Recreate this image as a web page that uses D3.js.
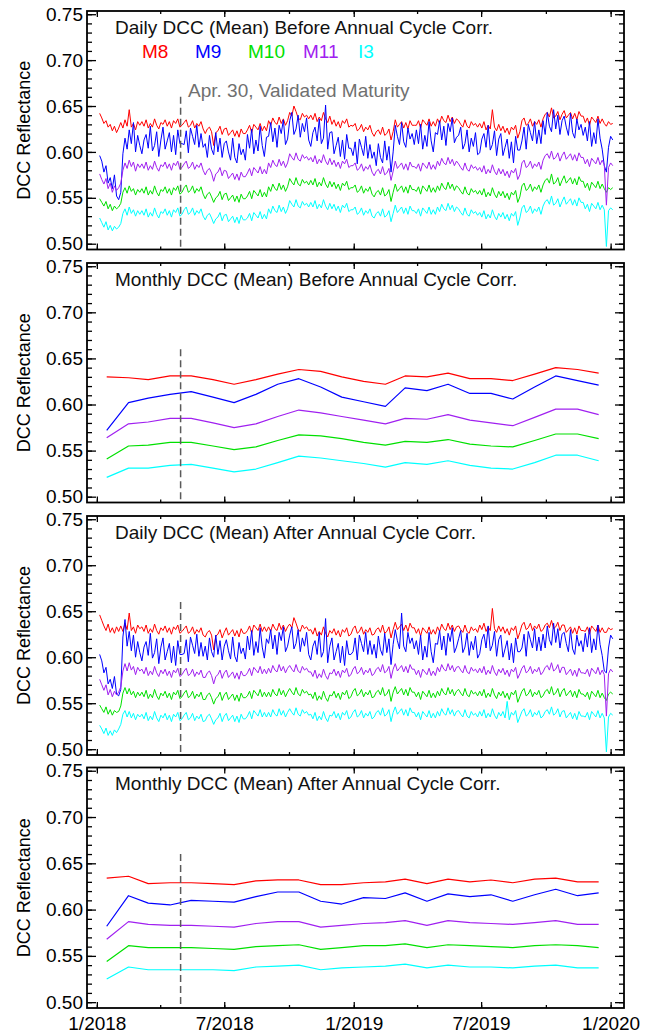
<!DOCTYPE html>
<html>
<head>
<meta charset="utf-8">
<script src="https://cdn.jsdelivr.net/npm/d3@7"></script>
<style>
body { margin: 0; background: #fff; }
text { font-family: "Liberation Sans", Arial, Helvetica, sans-serif; }
</style>
</head>
<body>
<svg id="chart" width="652" height="1034"></svg>
<script>
// bands, in drawing order
var bands = ["M8", "M9", "M10", "M11", "I3"];
var bandColors = ["#ff0000", "#0000ff", "#00e000", "#a020f0", "#00ffff"];

var panelTitles = [
  "Daily DCC (Mean) Before Annual Cycle Corr.",
  "Monthly DCC (Mean) Before Annual Cycle Corr.",
  "Daily DCC (Mean) After Annual Cycle Corr.",
  "Monthly DCC (Mean) After Annual Cycle Corr."
];
var yLabel = "DCC Reflectance";
var yTicks = [0.50, 0.55, 0.60, 0.65, 0.70, 0.75];
var xTickLabels = ["1/2018", "7/2018", "1/2019", "7/2019", "1/2020"];
var maturityDate = "2018-04-30";
var maturityText = "Apr. 30, Validated Maturity";

// daily series: one value every 3 days from Jan 5 2018 (one row ~ one month)
var dailyStart = "2018-01-05";
var dailyStep = 3;

var dailyBeforeM8 = [
  0.642, 0.637, 0.631, 0.634, 0.627, 0.630, 0.623, 0.628, 0.621, 0.626,
  0.632, 0.626, 0.635, 0.628, 0.646, 0.627, 0.631, 0.624, 0.633, 0.629,
  0.633, 0.628, 0.635, 0.626, 0.631, 0.627, 0.636, 0.629, 0.625, 0.632,
  0.630, 0.635, 0.628, 0.633, 0.626, 0.634, 0.631, 0.636, 0.627, 0.629,
  0.632, 0.635, 0.627, 0.629, 0.634, 0.626, 0.631, 0.628, 0.633, 0.625,
  0.620, 0.625, 0.627, 0.622, 0.607, 0.621, 0.623, 0.628, 0.619, 0.625,
  0.626, 0.618, 0.621, 0.624, 0.617, 0.623, 0.616, 0.625, 0.620, 0.620,
  0.624, 0.629, 0.621, 0.630, 0.627, 0.624, 0.631, 0.623, 0.628, 0.623,
  0.634, 0.629, 0.637, 0.632, 0.630, 0.638, 0.631, 0.636, 0.629, 0.634,
  0.643, 0.639, 0.650, 0.644, 0.637, 0.635, 0.642, 0.638, 0.640, 0.636,
  0.640, 0.635, 0.642, 0.633, 0.638, 0.634, 0.643, 0.636, 0.632, 0.639,
  0.630, 0.635, 0.628, 0.633, 0.626, 0.634, 0.631, 0.636, 0.627, 0.629,
  0.628, 0.631, 0.623, 0.625, 0.630, 0.622, 0.627, 0.624, 0.629, 0.621,
  0.617, 0.622, 0.624, 0.619, 0.627, 0.618, 0.620, 0.625, 0.613, 0.622,
  0.635, 0.627, 0.630, 0.633, 0.626, 0.632, 0.625, 0.634, 0.629, 0.629,
  0.629, 0.634, 0.626, 0.635, 0.632, 0.629, 0.636, 0.628, 0.633, 0.628,
  0.636, 0.631, 0.639, 0.634, 0.632, 0.640, 0.633, 0.638, 0.631, 0.636,
  0.634, 0.630, 0.627, 0.635, 0.628, 0.626, 0.633, 0.629, 0.631, 0.627,
  0.631, 0.626, 0.633, 0.624, 0.629, 0.625, 0.646, 0.627, 0.623, 0.630,
  0.623, 0.628, 0.621, 0.626, 0.619, 0.627, 0.624, 0.629, 0.615, 0.622,
  0.634, 0.637, 0.629, 0.631, 0.636, 0.628, 0.633, 0.630, 0.635, 0.627,
  0.636, 0.641, 0.643, 0.638, 0.648, 0.637, 0.639, 0.644, 0.635, 0.641,
  0.645, 0.637, 0.640, 0.643, 0.636, 0.642, 0.635, 0.644, 0.639, 0.639,
  0.632, 0.637, 0.629, 0.638, 0.635, 0.632, 0.639, 0.631, 0.636, 0.631,
  0.628, 0.633, 0.630, 0.631
];
var dailyBeforeM9 = [
  0.596, 0.590, 0.578, 0.585, 0.566, 0.572, 0.560, 0.575, 0.552, 0.548,
  0.556, 0.598, 0.615, 0.603, 0.624, 0.609, 0.632, 0.600, 0.618, 0.607,
  0.598, 0.613, 0.619, 0.604, 0.628, 0.601, 0.607, 0.622, 0.595, 0.613,
  0.627, 0.603, 0.612, 0.621, 0.600, 0.618, 0.597, 0.624, 0.609, 0.609,
  0.608, 0.623, 0.599, 0.626, 0.617, 0.608, 0.629, 0.605, 0.620, 0.605,
  0.609, 0.594, 0.618, 0.603, 0.597, 0.621, 0.600, 0.615, 0.594, 0.609,
  0.612, 0.600, 0.591, 0.615, 0.594, 0.588, 0.609, 0.597, 0.603, 0.591,
  0.619, 0.604, 0.625, 0.598, 0.613, 0.601, 0.628, 0.607, 0.595, 0.616,
  0.617, 0.632, 0.611, 0.626, 0.605, 0.629, 0.620, 0.635, 0.608, 0.614,
  0.634, 0.643, 0.619, 0.625, 0.640, 0.616, 0.631, 0.622, 0.637, 0.613,
  0.606, 0.621, 0.627, 0.612, 0.636, 0.609, 0.615, 0.651, 0.603, 0.621,
  0.622, 0.598, 0.607, 0.616, 0.595, 0.613, 0.592, 0.619, 0.604, 0.604,
  0.596, 0.611, 0.587, 0.614, 0.605, 0.596, 0.617, 0.593, 0.608, 0.593,
  0.600, 0.585, 0.609, 0.594, 0.588, 0.612, 0.591, 0.606, 0.578, 0.600,
  0.629, 0.617, 0.608, 0.632, 0.611, 0.605, 0.626, 0.614, 0.620, 0.608,
  0.624, 0.609, 0.630, 0.603, 0.618, 0.606, 0.633, 0.612, 0.600, 0.621,
  0.619, 0.634, 0.613, 0.628, 0.607, 0.631, 0.622, 0.637, 0.610, 0.616,
  0.618, 0.627, 0.603, 0.609, 0.624, 0.600, 0.615, 0.606, 0.621, 0.597,
  0.599, 0.614, 0.620, 0.605, 0.629, 0.602, 0.608, 0.623, 0.596, 0.614,
  0.620, 0.596, 0.605, 0.614, 0.593, 0.611, 0.588, 0.617, 0.602, 0.602,
  0.612, 0.627, 0.603, 0.630, 0.621, 0.612, 0.633, 0.609, 0.624, 0.609,
  0.634, 0.619, 0.643, 0.628, 0.622, 0.646, 0.625, 0.640, 0.619, 0.634,
  0.639, 0.627, 0.618, 0.642, 0.621, 0.615, 0.636, 0.624, 0.630, 0.618,
  0.627, 0.612, 0.633, 0.606, 0.621, 0.609, 0.636, 0.615, 0.603, 0.585,
  0.578, 0.605, 0.617, 0.613
];
var dailyBeforeM10 = [
  0.549, 0.545, 0.541, 0.546, 0.538, 0.543, 0.536, 0.541, 0.538, 0.540,
  0.544, 0.556, 0.561, 0.555, 0.563, 0.557, 0.560, 0.553, 0.559, 0.556,
  0.560, 0.555, 0.562, 0.553, 0.558, 0.554, 0.563, 0.556, 0.552, 0.559,
  0.557, 0.562, 0.555, 0.560, 0.553, 0.561, 0.558, 0.563, 0.554, 0.556,
  0.561, 0.564, 0.556, 0.558, 0.563, 0.555, 0.560, 0.557, 0.562, 0.554,
  0.549, 0.554, 0.556, 0.551, 0.545, 0.550, 0.552, 0.557, 0.548, 0.554,
  0.555, 0.547, 0.550, 0.553, 0.546, 0.552, 0.545, 0.554, 0.549, 0.549,
  0.552, 0.557, 0.549, 0.558, 0.555, 0.552, 0.559, 0.551, 0.556, 0.551,
  0.562, 0.557, 0.565, 0.560, 0.558, 0.566, 0.559, 0.564, 0.557, 0.562,
  0.571, 0.567, 0.564, 0.572, 0.565, 0.563, 0.570, 0.566, 0.568, 0.564,
  0.569, 0.564, 0.571, 0.562, 0.567, 0.563, 0.572, 0.565, 0.561, 0.568,
  0.562, 0.567, 0.560, 0.565, 0.558, 0.566, 0.563, 0.568, 0.559, 0.561,
  0.561, 0.564, 0.556, 0.558, 0.563, 0.555, 0.560, 0.557, 0.562, 0.554,
  0.551, 0.556, 0.558, 0.553, 0.561, 0.552, 0.554, 0.559, 0.546, 0.556,
  0.565, 0.557, 0.560, 0.563, 0.556, 0.562, 0.555, 0.564, 0.559, 0.559,
  0.557, 0.562, 0.554, 0.563, 0.560, 0.557, 0.564, 0.556, 0.561, 0.556,
  0.563, 0.558, 0.566, 0.561, 0.559, 0.567, 0.560, 0.565, 0.558, 0.563,
  0.561, 0.557, 0.554, 0.562, 0.555, 0.553, 0.560, 0.556, 0.558, 0.554,
  0.558, 0.553, 0.560, 0.551, 0.556, 0.552, 0.561, 0.554, 0.550, 0.557,
  0.552, 0.557, 0.550, 0.555, 0.548, 0.556, 0.553, 0.558, 0.545, 0.551,
  0.563, 0.566, 0.558, 0.560, 0.565, 0.557, 0.562, 0.559, 0.564, 0.556,
  0.564, 0.569, 0.571, 0.566, 0.576, 0.565, 0.567, 0.572, 0.563, 0.569,
  0.574, 0.566, 0.569, 0.572, 0.565, 0.571, 0.564, 0.573, 0.568, 0.568,
  0.561, 0.566, 0.558, 0.567, 0.564, 0.561, 0.568, 0.560, 0.565, 0.560,
  0.556, 0.561, 0.559, 0.561
];
var dailyBeforeM11 = [
  0.576, 0.570, 0.565, 0.571, 0.560, 0.566, 0.556, 0.563, 0.558, 0.561,
  0.566, 0.580, 0.588, 0.582, 0.591, 0.584, 0.589, 0.579, 0.587, 0.583,
  0.587, 0.582, 0.589, 0.580, 0.585, 0.581, 0.590, 0.583, 0.579, 0.586,
  0.584, 0.589, 0.582, 0.587, 0.580, 0.588, 0.585, 0.590, 0.581, 0.583,
  0.587, 0.590, 0.582, 0.584, 0.589, 0.581, 0.586, 0.583, 0.588, 0.580,
  0.575, 0.580, 0.582, 0.577, 0.568, 0.576, 0.578, 0.583, 0.574, 0.580,
  0.579, 0.571, 0.574, 0.577, 0.570, 0.576, 0.569, 0.578, 0.573, 0.573,
  0.577, 0.582, 0.574, 0.583, 0.580, 0.577, 0.584, 0.576, 0.581, 0.576,
  0.588, 0.583, 0.591, 0.586, 0.584, 0.592, 0.585, 0.590, 0.583, 0.588,
  0.598, 0.594, 0.591, 0.599, 0.592, 0.590, 0.597, 0.593, 0.595, 0.591,
  0.594, 0.589, 0.596, 0.587, 0.592, 0.588, 0.597, 0.590, 0.586, 0.593,
  0.586, 0.591, 0.584, 0.589, 0.582, 0.590, 0.587, 0.592, 0.583, 0.585,
  0.585, 0.588, 0.580, 0.582, 0.587, 0.579, 0.584, 0.581, 0.586, 0.578,
  0.574, 0.579, 0.581, 0.576, 0.584, 0.575, 0.577, 0.582, 0.569, 0.579,
  0.590, 0.582, 0.585, 0.588, 0.581, 0.587, 0.580, 0.589, 0.584, 0.584,
  0.582, 0.587, 0.579, 0.588, 0.585, 0.582, 0.589, 0.581, 0.586, 0.581,
  0.590, 0.585, 0.593, 0.588, 0.586, 0.594, 0.587, 0.592, 0.585, 0.590,
  0.587, 0.583, 0.580, 0.588, 0.581, 0.579, 0.586, 0.582, 0.584, 0.580,
  0.583, 0.578, 0.585, 0.576, 0.581, 0.577, 0.586, 0.579, 0.575, 0.582,
  0.576, 0.581, 0.574, 0.579, 0.572, 0.580, 0.577, 0.582, 0.570, 0.575,
  0.588, 0.591, 0.583, 0.585, 0.590, 0.582, 0.587, 0.584, 0.589, 0.581,
  0.591, 0.596, 0.598, 0.593, 0.601, 0.592, 0.594, 0.599, 0.590, 0.596,
  0.600, 0.592, 0.595, 0.598, 0.591, 0.597, 0.590, 0.599, 0.594, 0.594,
  0.587, 0.592, 0.584, 0.593, 0.590, 0.587, 0.594, 0.586, 0.591, 0.586,
  0.542, 0.583, 0.588, 0.585
];
var dailyBeforeI3 = [
  0.528, 0.523, 0.518, 0.524, 0.515, 0.520, 0.514, 0.519, 0.516, 0.518,
  0.522, 0.533, 0.538, 0.531, 0.540, 0.533, 0.537, 0.530, 0.536, 0.532,
  0.536, 0.531, 0.538, 0.529, 0.534, 0.530, 0.539, 0.532, 0.528, 0.535,
  0.533, 0.538, 0.531, 0.536, 0.529, 0.537, 0.534, 0.539, 0.530, 0.532,
  0.537, 0.540, 0.532, 0.534, 0.539, 0.531, 0.536, 0.533, 0.538, 0.530,
  0.526, 0.531, 0.533, 0.528, 0.522, 0.527, 0.529, 0.534, 0.525, 0.531,
  0.532, 0.524, 0.527, 0.530, 0.523, 0.529, 0.522, 0.531, 0.526, 0.526,
  0.528, 0.533, 0.525, 0.534, 0.531, 0.528, 0.535, 0.527, 0.532, 0.527,
  0.538, 0.533, 0.541, 0.536, 0.534, 0.542, 0.535, 0.540, 0.533, 0.538,
  0.547, 0.543, 0.540, 0.548, 0.541, 0.539, 0.546, 0.542, 0.544, 0.540,
  0.545, 0.540, 0.547, 0.538, 0.543, 0.539, 0.548, 0.541, 0.537, 0.544,
  0.538, 0.543, 0.536, 0.541, 0.534, 0.542, 0.539, 0.544, 0.535, 0.537,
  0.537, 0.540, 0.532, 0.534, 0.539, 0.531, 0.536, 0.533, 0.538, 0.530,
  0.528, 0.533, 0.535, 0.530, 0.538, 0.529, 0.531, 0.536, 0.524, 0.533,
  0.542, 0.534, 0.537, 0.540, 0.533, 0.539, 0.532, 0.541, 0.536, 0.536,
  0.533, 0.538, 0.530, 0.539, 0.536, 0.533, 0.540, 0.532, 0.537, 0.532,
  0.540, 0.535, 0.543, 0.538, 0.536, 0.544, 0.537, 0.542, 0.535, 0.540,
  0.538, 0.534, 0.531, 0.539, 0.532, 0.530, 0.537, 0.533, 0.535, 0.531,
  0.534, 0.529, 0.536, 0.527, 0.532, 0.528, 0.537, 0.530, 0.526, 0.533,
  0.529, 0.534, 0.527, 0.532, 0.525, 0.533, 0.530, 0.535, 0.520, 0.528,
  0.539, 0.542, 0.534, 0.536, 0.541, 0.533, 0.538, 0.535, 0.540, 0.532,
  0.541, 0.546, 0.548, 0.543, 0.552, 0.542, 0.544, 0.549, 0.540, 0.546,
  0.551, 0.543, 0.546, 0.549, 0.542, 0.548, 0.541, 0.550, 0.545, 0.545,
  0.538, 0.543, 0.535, 0.544, 0.541, 0.538, 0.545, 0.537, 0.542, 0.537,
  0.497, 0.536, 0.539, 0.537
];

var dailyAfterM8 = [
  0.646, 0.640, 0.634, 0.629, 0.636, 0.627, 0.632, 0.626, 0.633, 0.628,
  0.634, 0.628, 0.637, 0.630, 0.648, 0.629, 0.633, 0.626, 0.635, 0.631,
  0.633, 0.628, 0.635, 0.626, 0.631, 0.627, 0.636, 0.629, 0.625, 0.632,
  0.629, 0.634, 0.627, 0.632, 0.625, 0.633, 0.630, 0.635, 0.626, 0.628,
  0.631, 0.634, 0.626, 0.628, 0.633, 0.625, 0.630, 0.627, 0.632, 0.624,
  0.622, 0.627, 0.629, 0.624, 0.608, 0.623, 0.625, 0.630, 0.621, 0.627,
  0.632, 0.624, 0.627, 0.630, 0.623, 0.629, 0.622, 0.631, 0.626, 0.626,
  0.629, 0.634, 0.626, 0.635, 0.632, 0.629, 0.636, 0.628, 0.633, 0.628,
  0.633, 0.628, 0.636, 0.631, 0.629, 0.637, 0.630, 0.635, 0.628, 0.633,
  0.636, 0.632, 0.643, 0.637, 0.630, 0.628, 0.635, 0.631, 0.633, 0.629,
  0.630, 0.625, 0.632, 0.623, 0.628, 0.624, 0.633, 0.626, 0.622, 0.629,
  0.626, 0.631, 0.624, 0.629, 0.622, 0.630, 0.627, 0.632, 0.623, 0.625,
  0.631, 0.634, 0.626, 0.628, 0.633, 0.625, 0.630, 0.627, 0.632, 0.624,
  0.625, 0.630, 0.632, 0.627, 0.635, 0.626, 0.628, 0.633, 0.621, 0.630,
  0.638, 0.630, 0.633, 0.636, 0.629, 0.635, 0.628, 0.637, 0.632, 0.632,
  0.626, 0.631, 0.623, 0.632, 0.629, 0.626, 0.633, 0.625, 0.630, 0.625,
  0.633, 0.628, 0.636, 0.631, 0.629, 0.637, 0.630, 0.635, 0.628, 0.633,
  0.634, 0.630, 0.627, 0.635, 0.628, 0.626, 0.633, 0.629, 0.631, 0.627,
  0.635, 0.630, 0.637, 0.628, 0.633, 0.629, 0.653, 0.631, 0.627, 0.634,
  0.628, 0.633, 0.626, 0.631, 0.624, 0.632, 0.629, 0.634, 0.620, 0.627,
  0.635, 0.638, 0.630, 0.632, 0.637, 0.629, 0.634, 0.631, 0.636, 0.628,
  0.630, 0.635, 0.637, 0.632, 0.640, 0.631, 0.633, 0.638, 0.629, 0.635,
  0.635, 0.627, 0.630, 0.633, 0.626, 0.632, 0.625, 0.634, 0.629, 0.629,
  0.628, 0.633, 0.625, 0.634, 0.631, 0.628, 0.635, 0.627, 0.632, 0.627,
  0.627, 0.632, 0.630, 0.631
];
var dailyAfterM9 = [
  0.603, 0.596, 0.583, 0.589, 0.571, 0.576, 0.566, 0.579, 0.560, 0.558,
  0.565, 0.622, 0.641, 0.612, 0.628, 0.607, 0.624, 0.600, 0.617, 0.605,
  0.596, 0.611, 0.617, 0.602, 0.626, 0.599, 0.605, 0.620, 0.593, 0.611,
  0.621, 0.597, 0.606, 0.615, 0.594, 0.612, 0.591, 0.618, 0.603, 0.603,
  0.604, 0.619, 0.595, 0.622, 0.613, 0.604, 0.625, 0.601, 0.616, 0.601,
  0.612, 0.597, 0.621, 0.606, 0.600, 0.624, 0.603, 0.618, 0.597, 0.612,
  0.619, 0.607, 0.598, 0.622, 0.601, 0.595, 0.616, 0.604, 0.610, 0.598,
  0.623, 0.608, 0.629, 0.602, 0.617, 0.605, 0.632, 0.611, 0.599, 0.620,
  0.615, 0.630, 0.609, 0.624, 0.603, 0.627, 0.618, 0.633, 0.606, 0.612,
  0.624, 0.633, 0.609, 0.615, 0.630, 0.606, 0.621, 0.612, 0.627, 0.603,
  0.597, 0.612, 0.618, 0.603, 0.627, 0.600, 0.606, 0.642, 0.594, 0.612,
  0.621, 0.597, 0.606, 0.615, 0.594, 0.612, 0.591, 0.618, 0.603, 0.603,
  0.606, 0.621, 0.597, 0.624, 0.615, 0.606, 0.627, 0.603, 0.618, 0.603,
  0.614, 0.599, 0.623, 0.608, 0.602, 0.626, 0.605, 0.620, 0.592, 0.614,
  0.630, 0.618, 0.609, 0.648, 0.612, 0.606, 0.627, 0.615, 0.621, 0.609,
  0.618, 0.603, 0.624, 0.597, 0.612, 0.600, 0.627, 0.606, 0.594, 0.615,
  0.614, 0.629, 0.608, 0.623, 0.602, 0.626, 0.617, 0.632, 0.605, 0.611,
  0.620, 0.629, 0.605, 0.611, 0.626, 0.602, 0.617, 0.608, 0.623, 0.599,
  0.604, 0.619, 0.625, 0.610, 0.634, 0.607, 0.613, 0.628, 0.601, 0.619,
  0.624, 0.600, 0.609, 0.618, 0.597, 0.615, 0.594, 0.621, 0.606, 0.606,
  0.610, 0.625, 0.601, 0.628, 0.619, 0.610, 0.631, 0.607, 0.622, 0.607,
  0.625, 0.610, 0.634, 0.619, 0.613, 0.637, 0.616, 0.631, 0.610, 0.625,
  0.627, 0.615, 0.606, 0.630, 0.609, 0.603, 0.624, 0.612, 0.618, 0.606,
  0.626, 0.611, 0.632, 0.605, 0.620, 0.608, 0.635, 0.614, 0.602, 0.585,
  0.583, 0.610, 0.624, 0.620
];
var dailyAfterM10 = [
  0.548, 0.544, 0.540, 0.546, 0.538, 0.543, 0.537, 0.542, 0.540, 0.541,
  0.547, 0.561, 0.567, 0.560, 0.566, 0.559, 0.563, 0.556, 0.562, 0.558,
  0.562, 0.557, 0.564, 0.555, 0.560, 0.556, 0.565, 0.558, 0.554, 0.561,
  0.558, 0.563, 0.556, 0.561, 0.554, 0.562, 0.559, 0.564, 0.555, 0.557,
  0.561, 0.564, 0.556, 0.558, 0.563, 0.555, 0.560, 0.557, 0.562, 0.554,
  0.554, 0.559, 0.561, 0.556, 0.549, 0.555, 0.557, 0.562, 0.553, 0.559,
  0.562, 0.554, 0.557, 0.560, 0.553, 0.559, 0.552, 0.561, 0.556, 0.556,
  0.558, 0.563, 0.555, 0.564, 0.561, 0.558, 0.565, 0.557, 0.562, 0.557,
  0.562, 0.557, 0.565, 0.560, 0.558, 0.566, 0.559, 0.564, 0.557, 0.562,
  0.566, 0.562, 0.559, 0.567, 0.560, 0.558, 0.565, 0.561, 0.563, 0.559,
  0.560, 0.555, 0.562, 0.553, 0.558, 0.554, 0.563, 0.556, 0.552, 0.559,
  0.558, 0.563, 0.556, 0.561, 0.554, 0.562, 0.559, 0.564, 0.555, 0.557,
  0.563, 0.566, 0.558, 0.560, 0.565, 0.557, 0.562, 0.559, 0.564, 0.556,
  0.557, 0.562, 0.564, 0.559, 0.567, 0.558, 0.560, 0.565, 0.552, 0.562,
  0.568, 0.560, 0.563, 0.566, 0.559, 0.565, 0.558, 0.567, 0.562, 0.562,
  0.557, 0.562, 0.554, 0.563, 0.560, 0.557, 0.564, 0.556, 0.561, 0.556,
  0.563, 0.558, 0.566, 0.561, 0.559, 0.567, 0.560, 0.565, 0.558, 0.563,
  0.565, 0.561, 0.558, 0.566, 0.559, 0.557, 0.564, 0.560, 0.562, 0.558,
  0.563, 0.558, 0.565, 0.556, 0.561, 0.557, 0.566, 0.559, 0.555, 0.562,
  0.558, 0.563, 0.556, 0.561, 0.554, 0.562, 0.559, 0.564, 0.551, 0.557,
  0.563, 0.566, 0.558, 0.560, 0.565, 0.557, 0.562, 0.559, 0.564, 0.556,
  0.558, 0.563, 0.565, 0.560, 0.568, 0.559, 0.561, 0.566, 0.557, 0.563,
  0.566, 0.558, 0.561, 0.564, 0.557, 0.563, 0.556, 0.565, 0.560, 0.560,
  0.557, 0.562, 0.554, 0.563, 0.560, 0.557, 0.564, 0.556, 0.561, 0.556,
  0.553, 0.560, 0.562, 0.560
];
var dailyAfterM11 = [
  0.576, 0.570, 0.564, 0.570, 0.559, 0.565, 0.557, 0.563, 0.559, 0.562,
  0.568, 0.585, 0.593, 0.585, 0.594, 0.586, 0.590, 0.581, 0.589, 0.585,
  0.587, 0.582, 0.589, 0.580, 0.585, 0.581, 0.590, 0.583, 0.579, 0.586,
  0.582, 0.587, 0.580, 0.585, 0.578, 0.586, 0.583, 0.588, 0.579, 0.581,
  0.585, 0.588, 0.580, 0.582, 0.587, 0.579, 0.584, 0.581, 0.586, 0.578,
  0.578, 0.583, 0.585, 0.580, 0.571, 0.579, 0.581, 0.586, 0.577, 0.583,
  0.586, 0.578, 0.581, 0.584, 0.577, 0.583, 0.576, 0.585, 0.580, 0.580,
  0.583, 0.588, 0.580, 0.589, 0.586, 0.583, 0.590, 0.582, 0.587, 0.582,
  0.588, 0.583, 0.591, 0.586, 0.584, 0.592, 0.585, 0.590, 0.583, 0.588,
  0.591, 0.587, 0.584, 0.592, 0.585, 0.583, 0.590, 0.586, 0.588, 0.584,
  0.584, 0.579, 0.586, 0.577, 0.582, 0.578, 0.587, 0.580, 0.576, 0.583,
  0.582, 0.587, 0.580, 0.585, 0.578, 0.586, 0.583, 0.588, 0.579, 0.581,
  0.587, 0.590, 0.582, 0.584, 0.589, 0.581, 0.586, 0.583, 0.588, 0.580,
  0.582, 0.587, 0.589, 0.584, 0.592, 0.583, 0.585, 0.590, 0.577, 0.587,
  0.593, 0.585, 0.588, 0.591, 0.584, 0.590, 0.583, 0.592, 0.587, 0.587,
  0.581, 0.586, 0.578, 0.587, 0.584, 0.581, 0.588, 0.580, 0.585, 0.580,
  0.589, 0.584, 0.592, 0.587, 0.585, 0.593, 0.586, 0.591, 0.584, 0.589,
  0.590, 0.586, 0.583, 0.591, 0.584, 0.582, 0.589, 0.585, 0.587, 0.583,
  0.588, 0.583, 0.590, 0.581, 0.586, 0.582, 0.591, 0.584, 0.580, 0.587,
  0.583, 0.588, 0.581, 0.586, 0.579, 0.587, 0.584, 0.589, 0.577, 0.582,
  0.588, 0.591, 0.583, 0.585, 0.590, 0.582, 0.587, 0.584, 0.589, 0.581,
  0.584, 0.589, 0.591, 0.586, 0.594, 0.585, 0.587, 0.592, 0.583, 0.589,
  0.589, 0.581, 0.584, 0.587, 0.580, 0.586, 0.579, 0.588, 0.583, 0.583,
  0.582, 0.587, 0.579, 0.588, 0.585, 0.582, 0.589, 0.581, 0.586, 0.581,
  0.536, 0.582, 0.587, 0.584
];
var dailyAfterI3 = [
  0.526, 0.522, 0.517, 0.523, 0.515, 0.520, 0.515, 0.521, 0.518, 0.522,
  0.527, 0.538, 0.542, 0.535, 0.541, 0.534, 0.539, 0.532, 0.538, 0.535,
  0.538, 0.533, 0.540, 0.531, 0.536, 0.532, 0.541, 0.534, 0.530, 0.537,
  0.534, 0.539, 0.532, 0.537, 0.530, 0.538, 0.535, 0.540, 0.531, 0.533,
  0.537, 0.540, 0.532, 0.534, 0.539, 0.531, 0.536, 0.533, 0.538, 0.530,
  0.531, 0.536, 0.538, 0.533, 0.527, 0.532, 0.534, 0.539, 0.530, 0.536,
  0.539, 0.531, 0.534, 0.537, 0.530, 0.536, 0.529, 0.538, 0.533, 0.533,
  0.536, 0.541, 0.533, 0.542, 0.539, 0.536, 0.543, 0.535, 0.540, 0.535,
  0.540, 0.535, 0.543, 0.538, 0.536, 0.544, 0.537, 0.542, 0.535, 0.540,
  0.544, 0.540, 0.537, 0.545, 0.538, 0.536, 0.543, 0.539, 0.541, 0.537,
  0.538, 0.533, 0.540, 0.531, 0.536, 0.532, 0.541, 0.534, 0.530, 0.537,
  0.536, 0.541, 0.534, 0.539, 0.532, 0.540, 0.537, 0.542, 0.533, 0.535,
  0.540, 0.543, 0.535, 0.537, 0.542, 0.534, 0.539, 0.536, 0.541, 0.533,
  0.535, 0.540, 0.542, 0.537, 0.545, 0.536, 0.538, 0.543, 0.530, 0.540,
  0.546, 0.538, 0.541, 0.544, 0.537, 0.543, 0.536, 0.545, 0.540, 0.540,
  0.535, 0.540, 0.532, 0.541, 0.538, 0.535, 0.542, 0.534, 0.539, 0.534,
  0.541, 0.536, 0.544, 0.539, 0.537, 0.545, 0.538, 0.543, 0.536, 0.541,
  0.542, 0.538, 0.535, 0.543, 0.536, 0.534, 0.541, 0.537, 0.539, 0.535,
  0.541, 0.536, 0.543, 0.534, 0.539, 0.535, 0.544, 0.537, 0.533, 0.540,
  0.536, 0.541, 0.534, 0.552, 0.532, 0.540, 0.537, 0.542, 0.529, 0.535,
  0.541, 0.544, 0.536, 0.538, 0.543, 0.535, 0.540, 0.537, 0.542, 0.534,
  0.536, 0.541, 0.543, 0.538, 0.546, 0.537, 0.539, 0.544, 0.535, 0.541,
  0.542, 0.534, 0.537, 0.540, 0.533, 0.539, 0.532, 0.541, 0.536, 0.536,
  0.535, 0.540, 0.532, 0.541, 0.538, 0.535, 0.542, 0.534, 0.539, 0.534,
  0.497, 0.535, 0.539, 0.537
];

// monthly means, mid-month Jan 2018 .. Dec 2019
var monthlyStart = "2018-01-15";
var monthlyBeforeM8 = [0.630, 0.629, 0.627, 0.631, 0.631, 0.627, 0.622, 0.627, 0.633, 0.638, 0.636, 0.630,
                       0.625, 0.622, 0.631, 0.630, 0.634, 0.628, 0.628, 0.626, 0.633, 0.640, 0.638, 0.634];
var monthlyBeforeM9 = [0.572, 0.602, 0.607, 0.611, 0.614, 0.608, 0.602, 0.611, 0.622, 0.628, 0.619, 0.608,
                       0.603, 0.598, 0.618, 0.615, 0.622, 0.612, 0.612, 0.606, 0.619, 0.631, 0.626, 0.621];
var monthlyBeforeM10 = [0.541, 0.555, 0.556, 0.559, 0.559, 0.555, 0.551, 0.554, 0.561, 0.567, 0.566, 0.563,
                        0.559, 0.556, 0.560, 0.559, 0.562, 0.557, 0.555, 0.554, 0.561, 0.568, 0.568, 0.563];
var monthlyBeforeM11 = [0.564, 0.579, 0.581, 0.585, 0.585, 0.580, 0.575, 0.579, 0.587, 0.594, 0.591, 0.587,
                        0.583, 0.579, 0.585, 0.584, 0.589, 0.583, 0.580, 0.577, 0.586, 0.595, 0.595, 0.589];
var monthlyBeforeI3 = [0.521, 0.531, 0.531, 0.534, 0.535, 0.531, 0.527, 0.530, 0.537, 0.544, 0.542, 0.539,
                       0.536, 0.532, 0.537, 0.535, 0.539, 0.534, 0.531, 0.530, 0.537, 0.545, 0.545, 0.539];

var monthlyAfterM8 = [0.634, 0.636, 0.628, 0.629, 0.629, 0.628, 0.627, 0.631, 0.632, 0.632, 0.627, 0.627,
                      0.629, 0.630, 0.633, 0.628, 0.633, 0.630, 0.632, 0.629, 0.633, 0.634, 0.630, 0.630];
var monthlyAfterM9 = [0.582, 0.615, 0.607, 0.605, 0.610, 0.609, 0.608, 0.614, 0.619, 0.619, 0.609, 0.606,
                      0.613, 0.612, 0.618, 0.609, 0.617, 0.614, 0.616, 0.609, 0.616, 0.622, 0.615, 0.618];
var monthlyAfterM10 = [0.544, 0.561, 0.559, 0.559, 0.559, 0.558, 0.557, 0.560, 0.561, 0.562, 0.557, 0.559,
                       0.561, 0.561, 0.563, 0.559, 0.562, 0.561, 0.560, 0.559, 0.561, 0.562, 0.561, 0.559];
var monthlyAfterM11 = [0.568, 0.587, 0.584, 0.583, 0.583, 0.582, 0.581, 0.585, 0.587, 0.587, 0.581, 0.583,
                       0.585, 0.586, 0.588, 0.583, 0.588, 0.586, 0.585, 0.584, 0.586, 0.588, 0.584, 0.584];
var monthlyAfterI3 = [0.525, 0.538, 0.535, 0.535, 0.535, 0.535, 0.534, 0.538, 0.539, 0.540, 0.535, 0.537,
                      0.538, 0.539, 0.541, 0.537, 0.540, 0.538, 0.538, 0.537, 0.539, 0.540, 0.537, 0.537];

// ---------- layout ----------
var left = 87, right = 624;
var panelTop = [11, 263, 516, 767.5];
var panelBottom = [249.5, 502.5, 755, 1008];
var fontSize = 19;

var parseDate = d3.timeParse("%Y-%m-%d");

function dailyDates(values) {
  var start = parseDate(dailyStart);
  return values.map(function (v, i) { return d3.timeDay.offset(start, i * dailyStep); });
}
function monthlyDates(values) {
  var start = parseDate(monthlyStart);
  return values.map(function (v, i) { return d3.timeMonth.offset(start, i); });
}

var panels = [
  { title: panelTitles[0], dates: dailyDates, legend: true, width: 1.0,
    series: [dailyBeforeM8, dailyBeforeM9, dailyBeforeM10, dailyBeforeM11, dailyBeforeI3] },
  { title: panelTitles[1], dates: monthlyDates, width: 1.2,
    series: [monthlyBeforeM8, monthlyBeforeM9, monthlyBeforeM10, monthlyBeforeM11, monthlyBeforeI3] },
  { title: panelTitles[2], dates: dailyDates, width: 1.0,
    series: [dailyAfterM8, dailyAfterM9, dailyAfterM10, dailyAfterM11, dailyAfterI3] },
  { title: panelTitles[3], dates: monthlyDates, xLabels: true, width: 1.2,
    series: [monthlyAfterM8, monthlyAfterM9, monthlyAfterM10, monthlyAfterM11, monthlyAfterI3] }
];

var svg = d3.select("#chart");

var x = d3.scaleTime()
    .domain([new Date(2017, 11, 18), new Date(2020, 0, 20)])
    .range([left, right]);

var xMajor = d3.timeMonth.every(6).range(new Date(2018, 0, 1), new Date(2020, 0, 2));
var xMinor = d3.timeMonth.every(3).range(new Date(2018, 0, 1), new Date(2020, 0, 2));
var yMinor = d3.range(50, 76).map(function (d) { return d / 100; });

panels.forEach(function (p, pi) {
  var top = panelTop[pi], bottom = panelBottom[pi];
  var y = d3.scaleLinear().domain([0.4937, 0.7535]).range([bottom, top]);
  var g = svg.append("g");

  // series lines
  var line = d3.line()
      .x(function (d) { return x(d[0]); })
      .y(function (d) { return y(d[1]); });
  p.series.forEach(function (values, si) {
    var dates = p.dates(values);
    var pts = values.map(function (v, i) { return [dates[i], v]; });
    g.append("path")
      .datum(pts)
      .attr("d", line)
      .attr("fill", "none")
      .attr("stroke", bandColors[si])
      .attr("stroke-width", p.width)
      .attr("stroke-linejoin", "round");
  });

  // maturity marker
  var mx = x(parseDate(maturityDate));
  g.append("line")
    .attr("x1", mx).attr("x2", mx)
    .attr("y1", y(0.66)).attr("y2", bottom)
    .attr("stroke", "#5a5a5a")
    .attr("stroke-width", 1.5)
    .attr("stroke-dasharray", "7,4");

  // inward ticks on all four sides
  function noDomain(sel) { sel.select(".domain").remove(); }
  g.append("g").attr("transform", "translate(0," + bottom + ")")
    .call(d3.axisTop(x).tickValues(xMinor).tickSize(3).tickFormat("")).call(noDomain);
  g.append("g").attr("transform", "translate(0," + bottom + ")")
    .call(d3.axisTop(x).tickValues(xMajor).tickSize(6).tickFormat("")).call(noDomain);
  g.append("g").attr("transform", "translate(0," + top + ")")
    .call(d3.axisBottom(x).tickValues(xMinor).tickSize(3).tickFormat("")).call(noDomain);
  g.append("g").attr("transform", "translate(0," + top + ")")
    .call(d3.axisBottom(x).tickValues(xMajor).tickSize(6).tickFormat("")).call(noDomain);
  g.append("g").attr("transform", "translate(" + left + ",0)")
    .call(d3.axisRight(y).tickValues(yMinor).tickSize(5).tickFormat("")).call(noDomain);
  g.append("g").attr("transform", "translate(" + left + ",0)")
    .call(d3.axisRight(y).tickValues(yTicks).tickSize(9).tickFormat("")).call(noDomain);
  g.append("g").attr("transform", "translate(" + right + ",0)")
    .call(d3.axisLeft(y).tickValues(yMinor).tickSize(5).tickFormat("")).call(noDomain);
  g.append("g").attr("transform", "translate(" + right + ",0)")
    .call(d3.axisLeft(y).tickValues(yTicks).tickSize(9).tickFormat("")).call(noDomain);
  g.selectAll(".tick line").attr("stroke", "#000").attr("stroke-width", 1.3);

  // y tick labels
  var yl = g.append("g").attr("transform", "translate(" + left + ",0)")
    .call(d3.axisLeft(y).tickValues(yTicks).tickSize(0).tickPadding(4).tickFormat(d3.format(".2f")))
    .call(noDomain);
  yl.selectAll("text").attr("font-size", fontSize).attr("font-family", null).attr("fill", "#000");

  // x tick labels, bottom panel only
  if (p.xLabels) {
    var xl = g.append("g").attr("transform", "translate(0," + bottom + ")")
      .call(d3.axisBottom(x).tickValues(xMajor).tickSize(0).tickPadding(9)
        .tickFormat(function (d, i) { return xTickLabels[i]; }))
      .call(noDomain);
    xl.selectAll("text").attr("font-size", fontSize).attr("font-family", null).attr("fill", "#000");
  }

  // frame
  g.append("rect")
    .attr("x", left).attr("y", top)
    .attr("width", right - left).attr("height", bottom - top)
    .attr("fill", "none").attr("stroke", "#000").attr("stroke-width", 1.8);

  // y axis title
  g.append("text")
    .attr("transform", "translate(30," + ((top + bottom) / 2) + ") rotate(-90)")
    .attr("text-anchor", "middle")
    .attr("font-size", 18)
    .text(yLabel);

  // panel title
  g.append("text")
    .attr("x", 115).attr("y", top + 22.5)
    .attr("font-size", fontSize)
    .attr("fill", "#111")
    .text(p.title);

  if (p.legend) {
    var legendX = [142, 195, 248, 303, 358];
    bands.forEach(function (b, i) {
      g.append("text")
        .attr("x", legendX[i]).attr("y", top + 47)
        .attr("font-size", fontSize)
        .attr("fill", bandColors[i])
        .text(b);
    });
    g.append("text")
      .attr("x", 188).attr("y", top + 85.7)
      .attr("font-size", fontSize)
      .attr("fill", "#707070")
      .text(maturityText);
  }
});
</script>
</body>
</html>
